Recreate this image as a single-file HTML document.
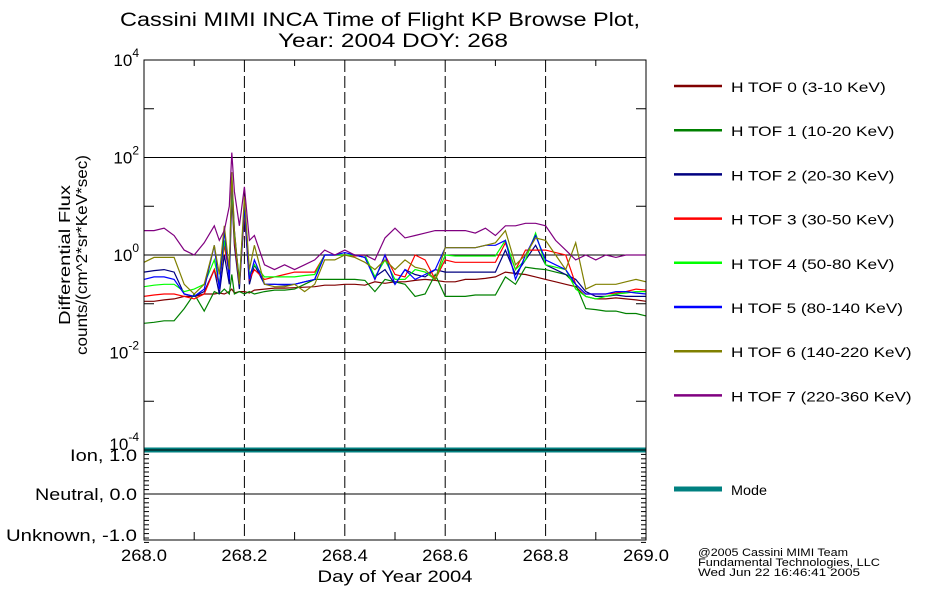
<!DOCTYPE html>
<html><head><meta charset="utf-8"><style>
body{margin:0;background:#fff;}
svg{display:block;font-family:"Liberation Sans",sans-serif;}
</style></head><body>
<svg id="chart" width="950" height="600" viewBox="0 0 950 600" xmlns="http://www.w3.org/2000/svg"></svg>
<script>
const times=[0,.02,.04,.06,.08,.1,.12,.14,.15,.16,.17,.175,.18,.19,.2,.21,.22,.24,.26,.28,.3,.32,.34,.36,.38,.4,.42,.44,.46,.48,.5,.52,.54,.56,.58,.6,.62,.64,.66,.68,.7,.72,.74,.76,.78,.8,.82,.84,.86,.88,.9,.92,.94,.96,.98,1];
const tof0=[-0.95,-0.95,-0.92,-0.9,-0.85,-0.85,-0.8,-0.8,-0.78,-0.8,-0.75,-0.7,-0.78,-0.75,-0.75,-0.78,-0.72,-0.7,-0.68,-0.68,-0.67,-0.66,-0.65,-0.62,-0.62,-0.6,-0.6,-0.62,-0.55,-0.58,-0.55,-0.55,-0.52,-0.5,-0.52,-0.55,-0.55,-0.5,-0.5,-0.48,-0.45,-0.35,-0.38,-0.4,-0.45,-0.5,-0.55,-0.6,-0.65,-0.85,-0.9,-0.9,-0.88,-0.9,-0.92,-0.95];
const tof1=[-1.4,-1.38,-1.35,-1.35,-1.1,-0.8,-1.15,-0.75,-0.8,-0.7,-0.8,-0.4,-0.8,-0.75,-0.8,-0.75,-0.8,-0.75,-0.72,-0.72,-0.7,-0.6,-0.5,-0.5,-0.5,-0.5,-0.5,-0.52,-0.75,-0.5,-0.55,-0.6,-0.85,-0.8,-0.4,-0.85,-0.85,-0.85,-0.82,-0.82,-0.82,-0.45,-0.6,-0.25,-0.28,-0.3,-0.35,-0.4,-0.6,-1.1,-1.12,-1.15,-1.15,-1.2,-1.2,-1.25];
const tof2=[-0.35,-0.32,-0.3,-0.35,-0.8,-0.85,-0.75,-0.3,-0.8,0.0,-0.6,1.2,0.2,-0.7,0.9,-0.6,-0.2,-0.6,-0.6,-0.62,-0.6,-0.55,-0.5,0.0,0.0,0.0,0.0,-0.05,-0.45,-0.3,-0.6,-0.3,-0.4,-0.45,-0.3,-0.35,-0.35,-0.35,-0.35,-0.35,-0.35,0.1,-0.4,-0.1,0.2,-0.2,-0.3,-0.4,-0.5,-0.75,-0.85,-0.85,-0.82,-0.85,-0.85,-0.85];
const tof3=[-0.85,-0.82,-0.8,-0.8,-0.85,-0.9,-0.8,-0.3,-0.6,0.2,-0.4,1.3,0.3,-0.6,0.9,-0.5,-0.3,-0.5,-0.45,-0.4,-0.35,-0.35,-0.35,0.0,0.0,0.0,-0.02,0.0,-0.5,0.0,-0.4,-0.45,0.0,-0.1,-0.5,-0.1,-0.15,-0.15,-0.15,-0.15,-0.15,0.25,-0.3,0.1,0.1,0.1,0.05,0.0,-0.6,-0.8,-0.8,-0.8,-0.78,-0.75,-0.7,-0.72];
const tof4=[-0.65,-0.62,-0.6,-0.6,-0.75,-0.7,-0.6,-0.1,-0.6,0.3,-0.3,1.4,0.4,-0.5,1.0,-0.4,-0.2,-0.45,-0.45,-0.45,-0.45,-0.42,-0.4,0.0,0.0,0.0,0.0,0.0,-0.45,-0.1,-0.5,-0.5,-0.3,-0.35,-0.5,0.0,-0.02,-0.02,-0.02,-0.02,-0.02,0.3,-0.3,-0.1,0.45,-0.2,-0.25,-0.3,-0.7,-0.85,-0.9,-0.85,-0.8,-0.78,-0.75,-0.75];
const tof5=[-0.5,-0.45,-0.45,-0.5,-0.8,-0.85,-0.7,0.2,-0.7,0.5,-0.5,1.6,0.5,-0.6,1.0,-0.5,-0.1,-0.6,-0.6,-0.6,-0.6,-0.55,-0.5,0.0,0.0,0.05,0.0,-0.05,-0.5,0.0,-0.6,-0.3,-0.5,-0.4,-0.3,0.15,0.15,0.15,0.15,0.2,0.2,0.3,-0.5,0.0,0.4,-0.1,-0.2,-0.3,-0.6,-0.8,-0.8,-0.8,-0.75,-0.75,-0.78,-0.8];
const tof6=[-0.15,-0.05,-0.05,-0.05,-0.6,-0.8,-0.6,0.2,-0.4,0.6,-0.3,1.7,0.5,-0.6,1.2,-0.3,0.2,-0.6,-0.65,-0.65,-0.6,-0.75,-0.6,-0.1,-0.1,0.0,-0.05,-0.15,-0.3,-0.1,-0.3,-0.1,-0.25,-0.3,-0.5,0.15,0.15,0.15,0.15,0.2,0.25,0.5,-0.2,0.0,0.35,0.3,0.0,-0.3,0.25,-0.7,-0.6,-0.6,-0.6,-0.55,-0.5,-0.55];
const tof7=[0.5,0.5,0.55,0.4,0.1,0.0,0.25,0.6,0.3,0.5,1.0,2.1,1.3,0.6,1.4,0.3,0.4,-0.2,-0.3,-0.2,-0.3,-0.2,-0.1,0.1,0.0,0.1,0.0,0.0,-0.1,0.35,0.55,0.35,0.4,0.45,0.5,0.5,0.5,0.5,0.45,0.55,0.4,0.6,0.6,0.65,0.65,0.6,0.3,0.1,-0.1,0.0,-0.1,0.0,-0.05,0.0,0.0,0.0];
const seriesNames=["H TOF 0 (3-10 KeV)","H TOF 1 (10-20 KeV)","H TOF 2 (20-30 KeV)","H TOF 3 (30-50 KeV)","H TOF 4 (50-80 KeV)","H TOF 5 (80-140 KeV)","H TOF 6 (140-220 KeV)","H TOF 7 (220-360 KeV)"];
const xTicks=["268.0","268.2","268.4","268.6","268.8","269.0"];
const modeValue=1.0;

const colors=["#800000","#008000","#000080","#ff0000","#00ff00","#0000ff","#808000","#800080"];
const allSeries=[tof0,tof1,tof2,tof3,tof4,tof5,tof6,tof7];
const NS="http://www.w3.org/2000/svg";
const svg=document.getElementById('chart');
const L=144,R=646,T=60,B=450,MB=538;
function xs(d){return L+d*(R-L);}
function ys(lg){return B-(lg+4)*(B-T)/8;}
function ym(m){return 494-m*44;}
function mk(tag,attrs,parent){const e=document.createElementNS(NS,tag);for(const k in attrs)e.setAttribute(k,attrs[k]);(parent||svg).appendChild(e);return e;}
function txt(x,y,s,size,anchor,len){const a={x:x,y:y,'font-size':size||16,'text-anchor':anchor||'start',fill:'#000'};if(len){a.textLength=len;a.lengthAdjust='spacingAndGlyphs';}const t=mk('text',a);t.textContent=s;return t;}

// title
let e=txt(120,26,"Cassini MIMI INCA Time of Flight KP Browse Plot,",19,'start',520);


e=txt(278,47,"Year: 2004 DOY: 268",19,'start',230);



// grid
for(const lg of [2,0,-2]){e=mk('line',{x1:L,x2:R,y1:ys(lg),y2:ys(lg),stroke:'#000','stroke-width':1});

}
for(const lg of [3,1,-1,-3]){mk('line',{x1:L,x2:L+10,y1:ys(lg),y2:ys(lg),stroke:'#000'});mk('line',{x1:R-10,x2:R,y1:ys(lg),y2:ys(lg),stroke:'#000'});}
mk('line',{x1:L,x2:R,y1:494,y2:494,stroke:'#000'});
for(let m=-1.1;m<1.0;m+=0.1){mk('line',{x1:L,x2:L+5,y1:ym(m),y2:ym(m),stroke:'#000'});mk('line',{x1:R-5,x2:R,y1:ym(m),y2:ym(m),stroke:'#000'});}
for(const d of [0.2,0.4,0.6,0.8]){e=mk('line',{x1:xs(d),x2:xs(d),y1:T,y2:MB+2,stroke:'#000','stroke-dasharray':'12,4'});

}
for(let i=1;i<10;i+=2){const d=i/10;mk('line',{x1:xs(d),x2:xs(d),y1:MB+2,y2:MB-6,stroke:'#000'});mk('line',{x1:xs(d),x2:xs(d),y1:T,y2:T+6,stroke:'#000'});}

// series
allSeries.forEach((s,i)=>{
  const n=Math.min(s.length,times.length);
  let d='';for(let k=0;k<n;k++){d+=(k?'L':'M')+xs(times[k]).toFixed(1)+','+ys(s[k]).toFixed(1);}
  const p=mk('path',{d:d,fill:'none',stroke:colors[i],'stroke-width':1.2});
  
  
});
// mode line
e=mk('line',{x1:L,x2:R,y1:ym(modeValue),y2:ym(modeValue),stroke:'#008080','stroke-width':5});



// frames
e=mk('rect',{x:L,y:T,width:R-L,height:B-T,fill:'none',stroke:'#000'});


e=mk('rect',{x:L,y:B,width:R-L,height:MB+2-B,fill:'none',stroke:'#000'});



// y labels
[[4,"4",0],[2,"2",0],[0,"0",0],[-2,"-2",0],[-4,"-4",-6]].forEach(([lg,s,off])=>{
  const g=mk('text',{x:L-5,y:ys(lg)+6+off,'font-size':17,'text-anchor':'end',fill:'#000'});
  g.textContent='10';
  const sp=mk('tspan',{dy:-9,'font-size':12},g);sp.textContent=s;
  
  
});
[["Ion, 1.0",1,67],["Neutral, 0.0",0,102],["Unknown, -1.0",-1,131]].forEach(([s,m,w])=>{
  e=txt(137,ym(m)+6+(m==1?5:0)+(m==-1?-3:0),s,17,'end',w);
  
  
});
e=mk('text',{transform:'translate(70,255) rotate(-90)','font-size':16,'text-anchor':'middle',fill:'#000',textLength:140,lengthAdjust:'spacingAndGlyphs'});
e.textContent='Differential Flux';


e=mk('text',{transform:'translate(87,255) rotate(-90)','font-size':16,'text-anchor':'middle',fill:'#000',textLength:200,lengthAdjust:'spacingAndGlyphs'});
e.textContent='counts/(cm^2*sr*KeV*sec)';



// x labels
xTicks.forEach((s,i)=>{e=txt(xs(i/5),561,s,17,'middle',46);

});
e=txt(395,582,"Day of Year 2004",17,'middle',155);



// legend
seriesNames.forEach((s,i)=>{
  const y=86+i*44.2;
  const g=mk('g',{});
  
  
  mk('line',{x1:674,x2:722,y1:y,y2:y,stroke:colors[i],'stroke-width':2.5},g);
  const t=mk('text',{x:731,y:y+6,'font-size':14,fill:'#000',textLength:s.length*8.6,lengthAdjust:'spacingAndGlyphs'},g);t.textContent=s;
});
const lg=mk('g',{});


mk('line',{x1:674,x2:722,y1:489,y2:489,stroke:'#008080','stroke-width':5},lg);
const mt=mk('text',{x:731,y:495,'font-size':14,fill:'#000',textLength:36,lengthAdjust:'spacingAndGlyphs'},lg);mt.textContent='Mode';

// credits
[["@2005 Cassini MIMI Team",150],["Fundamental Technologies, LLC",182],["Wed Jun 22 16:46:41 2005",162]].forEach(([s,w],i)=>{
  e=txt(698,556+i*10,s,11,'start',w);
  
  
});
</script>
</body></html>
